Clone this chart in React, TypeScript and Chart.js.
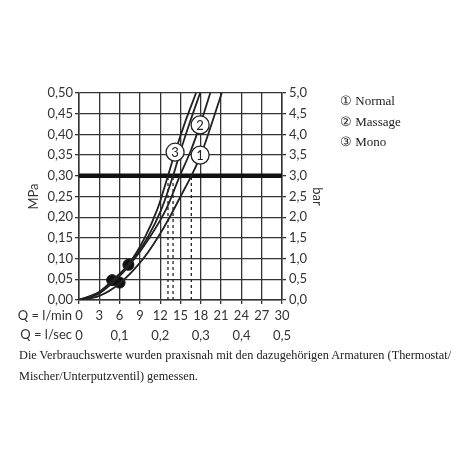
import React, { useEffect, useRef } from "react";
import { Chart, registerables } from "chart.js";

Chart.register(...registerables);

// Flow (l/min) and pressure (MPa) readings for each curve
const qMono = [0, 3, 4.9, 7.3, 9.7, 11.6, 13.15, 14.2, 15.8, 17.3];
const pMono = [0, 0.02, 0.047, 0.086, 0.15, 0.22, 0.3, 0.357, 0.435, 0.5];
const qMassage = [0, 3, 5, 7.3, 10.1, 12.2, 13.9, 15.0, 16.4, 17.9];
const pMassage = [0, 0.018, 0.046, 0.084, 0.15, 0.22, 0.3, 0.36, 0.43, 0.5];
const qMassageB = [0, 3, 5.5, 7.5, 10.4, 12.9, 14.9, 16.5, 17.9, 19.4];
const pMassageB = [0, 0.016, 0.05, 0.085, 0.15, 0.22, 0.3, 0.36, 0.423, 0.5];
const qNormal = [0, 3, 6, 9.5, 11.6, 13.4, 15.0, 16.6, 18.0, 21.1];
const pNormal = [0, 0.01, 0.04, 0.1, 0.15, 0.2, 0.25, 0.3, 0.35, 0.5];

// marker dots
const dotQ = [4.9, 6.0, 7.3];
const dotP = [0.048, 0.042, 0.085];

// reference pressure and flow read-offs at 0.3 MPa
const refPressure = 0.3;
const readQ = [13.15, 13.9, 16.6];

// circled curve labels
const labelText = ["1", "2", "3"];
const labelQ = [17.9, 17.9, 14.2];
const labelP = [0.35, 0.423, 0.357];

const legendItems = ["① Normal", "② Massage", "③ Mono"];
const footnoteLines = [
  "Die Verbrauchswerte wurden praxisnah mit den dazugehörigen Armaturen (Thermostat/",
  "Mischer/Unterputzventil) gemessen.",
];

const INK = "#222";
const FONT = "Lato";

const pts = (q: number[], p: number[]) => q.map((x, i) => ({ x, y: p[i] }));

const labelPlugin = {
  id: "circleLabels",
  afterDatasetsDraw(chart: any) {
    const { ctx, scales } = chart;
    ctx.save();
    labelText.forEach((t, i) => {
      const x = scales.x.getPixelForValue(labelQ[i]);
      const y = scales.y.getPixelForValue(labelP[i]);
      ctx.beginPath();
      ctx.arc(x, y, 9, 0, Math.PI * 2);
      ctx.fillStyle = "#fff";
      ctx.fill();
      ctx.lineWidth = 1.3;
      ctx.strokeStyle = INK;
      ctx.stroke();
      ctx.fillStyle = INK;
      ctx.font = `13px ${FONT}`;
      ctx.textAlign = "center";
      ctx.textBaseline = "middle";
      ctx.fillText(t, x, y + 0.5);
    });
    ctx.restore();
  },
};

export default function App() {
  const ref = useRef<HTMLCanvasElement>(null);
  useEffect(() => {
    if (!ref.current) return;
    const curve = (data: any[]) => ({
      data,
      borderColor: INK,
      borderWidth: 1.8,
      pointRadius: 0,
      cubicInterpolationMode: "monotone" as const,
      fill: false,
    });
    const datasets: any[] = [
      curve(pts(qMono, pMono)),
      curve(pts(qMassage, pMassage)),
      curve(pts(qMassageB, pMassageB)),
      curve(pts(qNormal, pNormal)),
      {
        data: [
          { x: 0, y: refPressure },
          { x: 30, y: refPressure },
        ],
        borderColor: "#111",
        borderWidth: 4.5,
        pointRadius: 0,
        tension: 0,
      },
      ...readQ.map((q) => ({
        data: [
          { x: q, y: 0 },
          { x: q, y: refPressure },
        ],
        borderColor: INK,
        borderWidth: 1.3,
        borderDash: [3, 3],
        pointRadius: 0,
        tension: 0,
      })),
      {
        data: pts(dotQ, dotP),
        showLine: false,
        pointRadius: 5.5,
        pointBackgroundColor: "#111",
        pointBorderColor: "#111",
      },
    ];
    const tickFont = { family: FONT, size: 13 };
    const chart = new Chart(ref.current, {
      type: "line",
      data: { datasets },
      plugins: [labelPlugin],
      options: {
        animation: false,
        responsive: false,
        events: [],
        layout: { padding: { left: 22, right: 141, top: 93, bottom: 118 } },
        plugins: { legend: { display: false }, tooltip: { enabled: false } },
        scales: {
          x: {
            type: "linear",
            position: "bottom",
            min: 0,
            max: 30,
            afterFit: (s: any) => { s.height = 22; },
            ticks: { stepSize: 3, font: tickFont, color: "#333", padding: 4, maxRotation: 0, autoSkip: false },
            grid: { color: "#333", lineWidth: 1.3, tickLength: 4 },
            border: { color: "#333", width: 1.5 },
          },
          x2: {
            type: "linear",
            position: "bottom",
            min: 0,
            max: 0.5,
            afterFit: (s: any) => { s.height = 30; },
            ticks: {
              stepSize: 0.1,
              font: tickFont,
              color: "#333",
              padding: 6,
              maxRotation: 0,
              autoSkip: false,
              callback: (v: any) => (v === 0 ? "0" : Number(v).toFixed(1).replace(".", ",")),
            },
            grid: { display: false, drawTicks: false, tickLength: 0 },
            border: { display: false },
          },
          y: {
            type: "linear",
            position: "left",
            min: 0,
            max: 0.5,
            afterFit: (s: any) => { s.width = 57; },
            ticks: {
              stepSize: 0.05,
              font: tickFont,
              color: "#333",
              padding: 2,
              callback: (v: any) => Number(v).toFixed(2).replace(".", ","),
            },
            grid: { color: "#333", lineWidth: 1.3, tickLength: 4 },
            border: { color: "#333", width: 1.5 },
            title: { display: true, text: "MPa", font: tickFont, color: "#333" },
          },
          yR: {
            type: "linear",
            position: "right",
            min: 0,
            max: 5,
            afterFit: (s: any) => { s.width = 47; },
            ticks: {
              stepSize: 0.5,
              font: tickFont,
              color: "#333",
              padding: 3,
              callback: (v: any) => Number(v).toFixed(1).replace(".", ","),
            },
            grid: { drawOnChartArea: false, color: "#333", lineWidth: 1.3, tickLength: 4 },
            border: { color: "#333", width: 1.5 },
            title: { display: true, text: "bar", font: tickFont, color: "#333" },
          },
        },
      },
    } as any);
    return () => chart.destroy();
  }, []);

  const qLabel: React.CSSProperties = {
    position: "absolute",
    left: 0,
    width: 72,
    textAlign: "right",
    font: `13px ${FONT}`,
    color: "#333",
    whiteSpace: "nowrap",
  };

  return (
    <div style={{ position: "fixed", left: 0, top: 0, width: 470, height: 470, background: "#fff" }}>
      <canvas ref={ref} width={470} height={470} style={{ position: "absolute", left: 0, top: 0 }} />
      <div style={{ ...qLabel, top: 307 }}>Q = l/min</div>
      <div style={{ ...qLabel, top: 326 }}>Q = l/sec</div>
      <div style={{ position: "absolute", left: 340, top: 91, font: "13px 'Liberation Serif'", color: "#222", lineHeight: "20.5px" }}>
        {legendItems.map((t) => (
          <div key={t}>{t}</div>
        ))}
      </div>
      <div style={{ position: "absolute", left: 19, top: 345, font: "12.3px 'Liberation Serif'", color: "#222", lineHeight: "21px", whiteSpace: "nowrap" }}>
        {footnoteLines.map((t) => (
          <div key={t}>{t}</div>
        ))}
      </div>
    </div>
  );
}
